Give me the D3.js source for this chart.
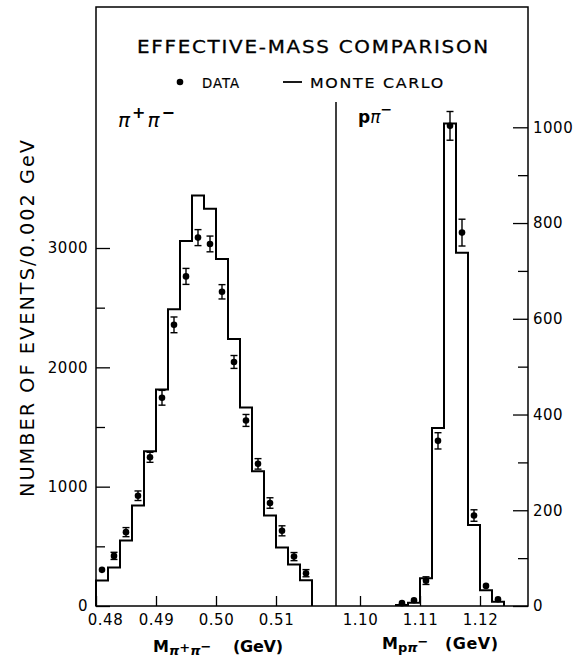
<!DOCTYPE html>
<html><head><meta charset="utf-8">
<script src="https://cdn.jsdelivr.net/npm/d3@7"></script>
<style>body{margin:0;background:#fff}svg{display:block}</style>
</head><body><svg id="c" width="579" height="661"></svg>
<script>
// ---- data ----
const binWidth = 0.002;
const pipiBins = [0.480,0.482,0.484,0.486,0.488,0.490,0.492,0.494,0.496,0.498,0.500,0.502,0.504,0.506,0.508,0.510,0.512,0.514];
const pipiMC   = [213,322,549,843,1297,1815,2487,3059,3440,3328,2908,2238,1664,1129,759,490,347,216];
const pipiData = [303,420,619,924,1246,1745,2356,2762,3087,3034,2633,2045,1555,1191,863,630,414,275];
const pipiErr  = [22,30,38,40,42,62,66,67,67,66,60,54,50,44,44,42,34,30];
const ppiBins  = [1.106,1.108,1.110,1.112,1.114,1.116,1.118,1.120,1.122];
const ppiMC    = [2,7,58,372,1008,738,169,33,9];
const ppiData  = [6,12,53,345,1003,780,189,42,14];
const ppiErr   = [3,4,8,17,30,28,12,6,4];
const leftTicksX  = [0.48,0.49,0.50,0.51];
const rightTicksX = [1.10,1.11,1.12];
const leftTicksY  = [0,1000,2000,3000];
const leftMinorY  = [500,1500,2500];
const rightTicksY = [0,200,400,600,800,1000];
const rightMinorY = [100,300,500,700,900];

// ---- layout ----
const svg = d3.select("#c");
const X0=96, XD=336, X1=528, YT=7, YB=606;
const FONT = "'DejaVu Sans', sans-serif";
const xL = d3.scaleLinear().domain([0.48,0.52]).range([X0,XD]);
const xR = d3.scaleLinear().domain([1.096,1.128]).range([XD,X1]);
const yL = d3.scaleLinear().domain([0,3000]).range([YB,248]);
const yR = d3.scaleLinear().domain([0,1000]).range([YB,127.3]);

// frame
svg.append("rect").attr("x",X0).attr("y",YT).attr("width",X1-X0).attr("height",YB-YT)
  .attr("fill","none").attr("stroke","#000").attr("stroke-width",1.5);
svg.append("line").attr("x1",XD).attr("x2",XD).attr("y1",102).attr("y2",YB)
  .attr("stroke","#000").attr("stroke-width",1.5);

function styleAxis(g){
  g.select(".domain").remove();
  g.selectAll("line").attr("stroke","#000").attr("stroke-width",1.3);
  g.selectAll("text").attr("font-family",FONT).attr("font-size",15).attr("fill","#000").attr("letter-spacing","0.5px");
}
// left y
svg.append("g").attr("transform",`translate(${X0},0)`)
  .call(d3.axisLeft(yL).tickValues(leftTicksY).tickSize(-14).tickPadding(8).tickFormat(d3.format("d")))
  .call(styleAxis);
svg.append("g").attr("transform",`translate(${X0},0)`)
  .call(d3.axisLeft(yL).tickValues(leftMinorY).tickSize(-9).tickFormat(""))
  .call(styleAxis);
// right y
svg.append("g").attr("transform",`translate(${X1},0)`)
  .call(d3.axisRight(yR).tickValues(rightTicksY).tickSize(-15).tickPadding(5).tickFormat(d3.format("d")))
  .call(styleAxis);
svg.append("g").attr("transform",`translate(${X1},0)`)
  .call(d3.axisRight(yR).tickValues(rightMinorY).tickSize(-10).tickFormat(""))
  .call(styleAxis);
// bottom axes
const gbl = svg.append("g").attr("transform",`translate(0,${YB})`)
  .call(d3.axisBottom(xL).tickValues(leftTicksX).tickSize(-10).tickPadding(8).tickFormat(d3.format(".2f")))
  .call(styleAxis);
gbl.selectAll(".tick").filter(d=>d===0.48).select("text").attr("dx",9);
svg.append("g").attr("transform",`translate(0,${YB})`)
  .call(d3.axisBottom(xR).tickValues(rightTicksX).tickSize(-10).tickPadding(8).tickFormat(d3.format(".2f")))
  .call(styleAxis);

// histograms
function histPts(bins, vals, x, y){
  const pts=[[x(bins[0]), y(0)]];
  bins.forEach((b,i)=>{ pts.push([x(b), y(vals[i])]); pts.push([x(b+binWidth), y(vals[i])]); });
  pts.push([x(bins[bins.length-1]+binWidth), y(0)]);
  return pts;
}
const line = d3.line();
svg.append("path").attr("d",line(histPts(pipiBins,pipiMC,xL,yL)))
  .attr("fill","none").attr("stroke","#000").attr("stroke-width",2);
svg.append("path").attr("d",line(histPts(ppiBins,ppiMC,xR,yR)))
  .attr("fill","none").attr("stroke","#000").attr("stroke-width",2);

// data points
function drawData(bins, vals, errs, x, y){
  const g = svg.append("g");
  bins.forEach((b,i)=>{
    const cx = x(b+binWidth/2), cy = y(vals[i]);
    const y1 = y(vals[i]+errs[i]), y2 = y(vals[i]-errs[i]);
    if (y2-y1 > 7){
      g.append("line").attr("x1",cx).attr("x2",cx).attr("y1",y1).attr("y2",y2).attr("stroke","#000").attr("stroke-width",1.4);
      g.append("line").attr("x1",cx-3.5).attr("x2",cx+3.5).attr("y1",y1).attr("y2",y1).attr("stroke","#000").attr("stroke-width",1.4);
      g.append("line").attr("x1",cx-3.5).attr("x2",cx+3.5).attr("y1",y2).attr("y2",y2).attr("stroke","#000").attr("stroke-width",1.4);
    }
    g.append("circle").attr("cx",cx).attr("cy",cy).attr("r",3.3).attr("fill","#000");
  });
}
drawData(pipiBins,pipiData,pipiErr,xL,yL);
drawData(ppiBins,ppiData,ppiErr,xR,yR);

// title and legend (wide lettering: stretched glyphs)
svg.append("text").attr("x",137).attr("y",53).attr("font-family",FONT).attr("font-size",17)
  .attr("letter-spacing","1.5px").attr("stroke","#000").attr("stroke-width",0.3)
  .attr("textLength",353).attr("lengthAdjust","spacingAndGlyphs").text("EFFECTIVE-MASS COMPARISON");
svg.append("circle").attr("cx",180).attr("cy",82).attr("r",3.3).attr("fill","#000");
svg.append("text").attr("x",202).attr("y",87.5).attr("font-family",FONT).attr("font-size",14)
  .attr("letter-spacing","1px").attr("stroke","#000").attr("stroke-width",0.2)
  .attr("textLength",38).attr("lengthAdjust","spacingAndGlyphs").text("DATA");
svg.append("line").attr("x1",283).attr("x2",302).attr("y1",82).attr("y2",82).attr("stroke","#000").attr("stroke-width",1.8);
svg.append("text").attr("x",310).attr("y",87.5).attr("font-family",FONT).attr("font-size",14)
  .attr("letter-spacing","1.5px").attr("stroke","#000").attr("stroke-width",0.2)
  .attr("textLength",135).attr("lengthAdjust","spacingAndGlyphs").text("MONTE CARLO");

// panel labels
const lab1 = svg.append("text").attr("x",118).attr("y",127).attr("font-family",FONT).attr("font-size",20)
  .attr("font-style","italic").attr("letter-spacing","2px");
lab1.append("tspan").text("π");
lab1.append("tspan").attr("dy",-9).attr("font-size",16).attr("font-style","normal").attr("font-weight","bold").text("+");
lab1.append("tspan").attr("dy",9).text("π");
lab1.append("tspan").attr("dy",-9).attr("font-size",16).attr("font-style","normal").attr("font-weight","bold").text("−");
const lab2 = svg.append("text").attr("x",358).attr("y",123).attr("font-family",FONT).attr("font-size",17);
lab2.append("tspan").attr("font-weight","bold").text("p");
lab2.append("tspan").attr("font-style","italic").text("π");
lab2.append("tspan").attr("dy",-9).attr("font-size",14).attr("font-weight","bold").text("−");

// y axis title
svg.append("text").attr("transform","translate(34,317.5) rotate(-90)").attr("text-anchor","middle")
  .attr("font-family",FONT).attr("font-size",19).attr("letter-spacing","2px")
  .attr("textLength",359).attr("lengthAdjust","spacingAndGlyphs")
  .text("NUMBER OF EVENTS/0.002 GeV");

// x axis titles
const t1 = svg.append("text").attr("x",153).attr("y",652).attr("font-family",FONT).attr("font-size",16).attr("font-weight","bold");
t1.append("tspan").text("M");
t1.append("tspan").attr("dy",3).attr("font-size",13).attr("font-style","italic").text("π");
t1.append("tspan").attr("dy",-3).attr("font-size",13).text("+");
t1.append("tspan").attr("dy",3).attr("font-size",13).attr("font-style","italic").text("π");
t1.append("tspan").attr("dy",-4).attr("font-size",13).text("−");
svg.append("text").attr("x",233).attr("y",652).attr("font-family",FONT).attr("font-size",16).attr("font-weight","bold")
  .attr("textLength",50).attr("lengthAdjust","spacing").text("(GeV)");
const t2 = svg.append("text").attr("x",382).attr("y",649).attr("font-family",FONT).attr("font-size",16).attr("font-weight","bold");
t2.append("tspan").text("M");
t2.append("tspan").attr("dy",3).attr("font-size",13).text("p");
t2.append("tspan").attr("font-size",13).attr("font-style","italic").text("π");
t2.append("tspan").attr("dy",-6).attr("font-size",13).text("−");
svg.append("text").attr("x",445).attr("y",649).attr("font-family",FONT).attr("font-size",16).attr("font-weight","bold")
  .attr("textLength",53).attr("lengthAdjust","spacing").text("(GeV)");
</script></body></html>
